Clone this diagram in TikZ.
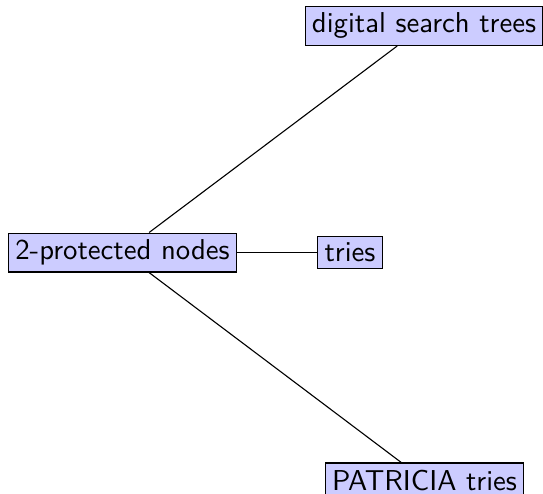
\documentclass[tikz,border=0pt]{standalone}
\begin{document}
\begin{tikzpicture}[x=0.3597pt, y=-0.3597pt,
  topic/.style={draw, fill=blue!20, inner sep=2.4pt,
    font=\fontsize{10.34pt}{12.4pt}\selectfont\sffamily},
  link/.style={draw}]
  \useasboundingbox (0,0) rectangle (543,493);
  \node[topic] (prot) at (122.5,252.5) {2-protected nodes};
  \node[topic] (dst)  at (424,25.8)    {digital search trees};
  \node[topic] (tri)  at (350,252.5)   {tries};
  \node[topic] (pat)  at (424.5,480)   {PATRICIA tries};
  \draw[link] (prot) -- (dst);
  \draw[link] (prot) -- (tri);
  \draw[link] (prot) -- (pat);
\end{tikzpicture}
\end{document}
